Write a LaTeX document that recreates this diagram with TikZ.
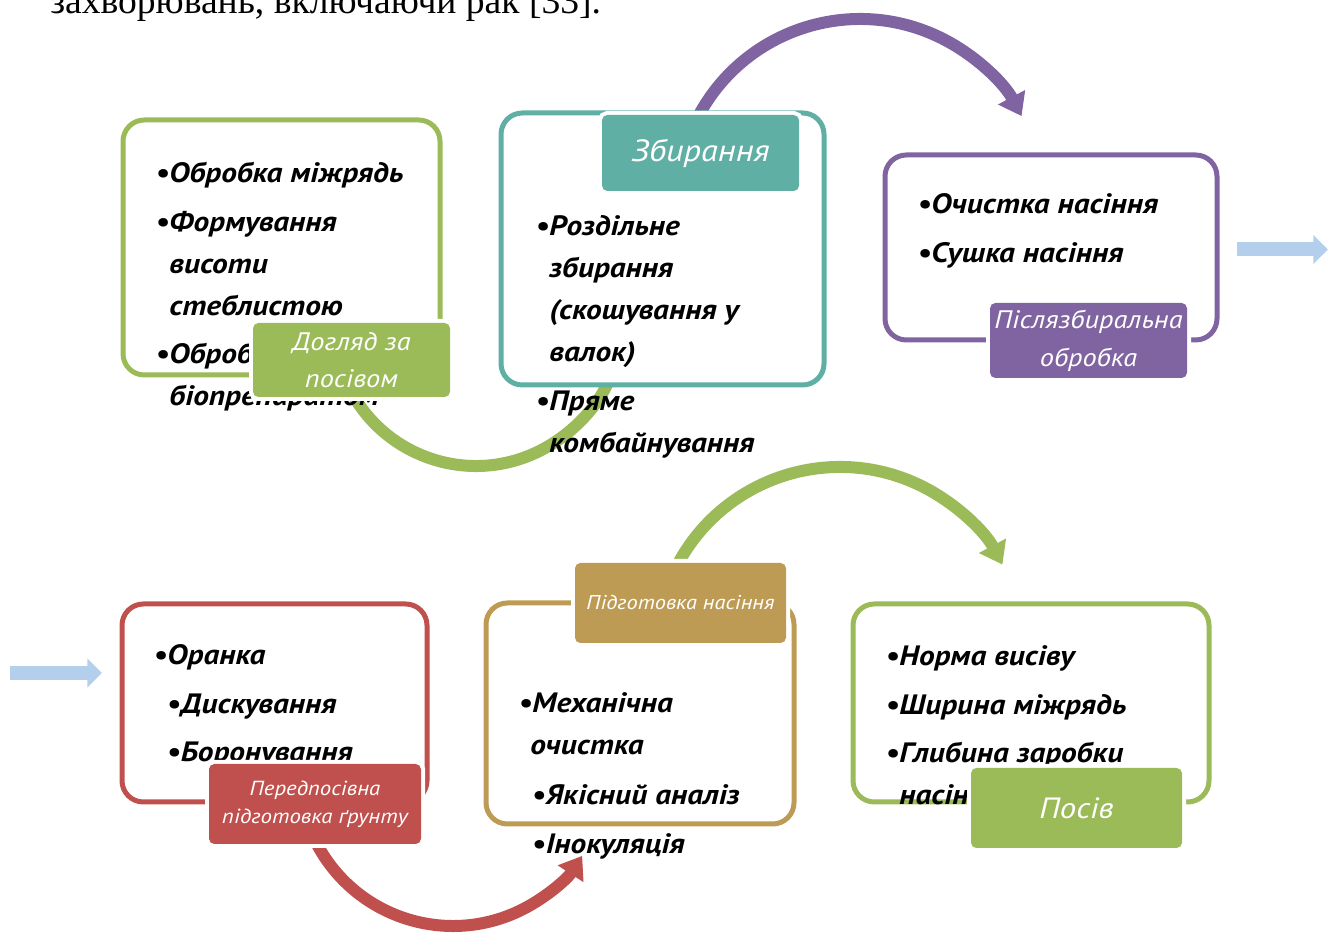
\documentclass[tikz,border=0pt]{standalone}
\usepackage{fontspec}
\setmainfont{PT Sans}
\newfontfamily\handfont[FakeStretch=1.12]{PT Sans}
\newfontfamily\docfont{Liberation Serif}
\usetikzlibrary{arrows.meta}

\definecolor{cgreen}{RGB}{155,187,89}
\definecolor{cteal}{RGB}{95,175,165}
\definecolor{cpurple}{RGB}{128,100,162}
\definecolor{cred}{RGB}{192,80,77}
\definecolor{cgold}{RGB}{190,155,85}
\definecolor{cblue}{RGB}{180,207,235}

\begin{document}
\begin{tikzpicture}[
x=0.75pt, y=0.75pt,
stage/.style={%
    rectangle, rounded corners=16pt,
    draw=#1, line width=3.75pt, fill=white,
},
tag/.style={%
    rectangle, rounded corners=4pt, fill=#1,
    preaction={draw=white, line width=6pt},
    text=white, align=center, inner sep=0pt,
},
items/.style={%
    anchor=north west, inner sep=0pt, align=left,
    font=\handfont\bfseries\itshape\fontsize{21}{31.5}\selectfont,
},
arc arrow/.style={%
    draw=#1, line width=9pt,
    -{Triangle[width=22pt,length=16pt]},
},
block arrow/.style={%
    draw=cblue, line width=10.5pt,
    -{Triangle[width=21pt,length=11pt]},
},
]
\useasboundingbox (0,0) rectangle (1335,935);

% Page text
\node[anchor=base west, inner sep=0pt, font=\docfont\fontsize{28.2}{34}\selectfont]
    (pagetext) at (50,921) {захворювань, включаючи рак [33].};

% Coordinates
\coordinate (caretoharvest) at (347.3,551.0);
\coordinate (harvesttopost) at (698.4,818.9);
\coordinate (soiltoseed)    at (315.8,93.1);
\coordinate (seedtosow)     at (677.5,370.4);
\coordinate (inflowstart)   at (10,262);
\coordinate (inflowend)     at (102,262);
\coordinate (outflowstart)  at (1237,685.5);
\coordinate (outflowend)    at (1328,685.5);

% Arrows
\draw[arc arrow=cgreen]  (caretoharvest) arc[start angle=205, end angle=350, radius=142];
\draw[arc arrow=cpurple] (harvesttopost) arc[start angle=152, end angle=28, radius=183];
\draw[arc arrow=cred]    (soiltoseed)    arc[start angle=207, end angle=327, radius=154];
\draw[arc arrow=cgreen]  (seedtosow)     arc[start angle=152, end angle=28, radius=184];
\draw[block arrow] (inflowstart) -- (inflowend);
\draw[block arrow] (outflowstart) -- (outflowend);

% Boxes
\node[stage=cgreen,  minimum width=237.75pt, minimum height=191.25pt] at (281.5,687.5) (care)    {};
\node[stage=cteal,   minimum width=242.25pt, minimum height=204pt]    at (662.5,686)   (harvest) {};
\node[stage=cpurple, minimum width=249pt,    minimum height=138.75pt] at (1051,687.5)  (post)    {};
\node[stage=cred,    minimum width=228.75pt, minimum height=148.5pt]  at (274.5,232)   (soil)    {};
\node[stage=cgold,   minimum width=231pt,    minimum height=165.75pt] at (640,221.5)   (seed)    {};
\node[stage=cgreen,  minimum width=267pt,    minimum height=148.5pt]  at (1031,232)    (sow)     {};

% Items
\node[items] at (155,782) (careitems) {%
    \strut\textbullet Обробка міжрядь\\[5pt]
    \textbullet Формування\\
    \phantom{\textbullet}висоти\\
    \phantom{\textbullet}стеблистою\\[5pt]
    \textbullet Обробка\\
    \phantom{\textbullet}біопрепаратом};
\node[items] at (535,729) (harvestitems) {%
    \strut\textbullet Роздільне\\
    \phantom{\textbullet}збирання\\
    \phantom{\textbullet}(скошування у\\
    \phantom{\textbullet}валок)\\[5pt]
    \textbullet Пряме\\
    \phantom{\textbullet}комбайнування};
\node[items] at (917,751) (postitems) {%
    \strut\textbullet Очистка насіння\\[5pt]
    \textbullet Сушка насіння};
\node[items] at (153,300) (soilitems) {%
    \strut\textbullet Оранка\\[5pt]
    \hspace*{10pt}\textbullet Дискування\\[5pt]
    \hspace*{10pt}\textbullet Боронування};
\node[items] at (518,252) (seeditems) {%
    \strut\textbullet Механічна\\
    \hspace*{9pt}очистка\\[6pt]
    \hspace*{10pt}\textbullet Якісний аналіз\\[5pt]
    \hspace*{10pt}\textbullet Інокуляція};
\node[items] at (885,299) (sowitems) {%
    \strut\textbullet Норма висіву\\[5pt]
    \textbullet Ширина міжрядь\\[5pt]
    \textbullet Глибина заробки\\
    \phantom{\textbullet}насіння};

% Tags
\node[tag=cgreen,  minimum width=147.75pt, minimum height=55.5pt,
      font=\handfont\itshape\fontsize{19}{28}\selectfont] at (351.5,575) (caretag) {Догляд за\\посівом};
\node[tag=cteal,   minimum width=147.75pt, minimum height=57pt,
      font=\handfont\itshape\fontsize{23}{26}\selectfont] at (700.5,782) (harvesttag) {Збирання};
\node[tag=cpurple, minimum width=147.75pt, minimum height=56.25pt,
      font=\handfont\itshape\fontsize{19}{28.5}\selectfont] at (1088.5,594.5) (posttag) {Післязбиральна\\обробка};
\node[tag=cred,    minimum width=159pt, minimum height=60pt,
      font=\handfont\itshape\fontsize{15.3}{21}\selectfont] at (315,131) (soiltag) {Передпосівна\\підготовка ґрунту};
\node[tag=cgold,   minimum width=158.25pt, minimum height=60pt,
      font=\handfont\itshape\fontsize{15}{17}\selectfont] at (680.5,332) (seedtag) {Підготовка насіння};
\node[tag=cgreen,  minimum width=158.25pt, minimum height=60pt,
      font=\handfont\itshape\fontsize{22}{26}\selectfont] at (1076.5,127) (sowtag) {Посів};
\end{tikzpicture}
\end{document}
